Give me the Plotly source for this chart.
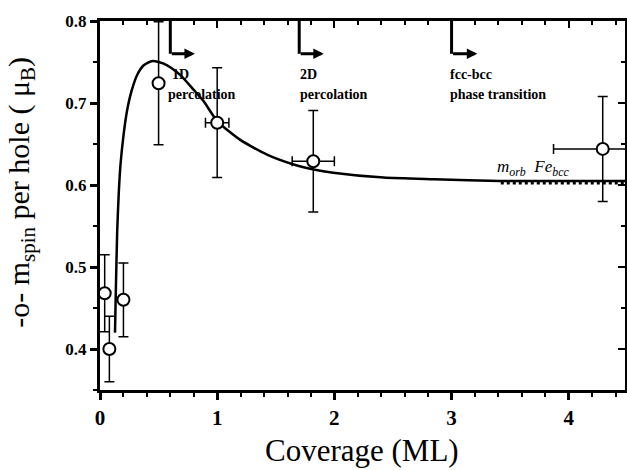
import plotly.graph_objects as go

# Measured points (coverage in ML, m_spin per hole in mu_B)
pt_x = [0.04, 0.08, 0.20, 0.50, 1.00, 1.82, 4.29]
pt_y = [0.468, 0.400, 0.460, 0.724, 0.676, 0.629, 0.644]
pt_yerr = [0.047, 0.040, 0.045, 0.075, 0.067, 0.062, 0.064]
pt_xerr = [0.0, 0.0, 0.0, 0.0, 0.10, 0.18, 0.42]

# Fitted guide curve
curve_x = [0.128, 0.135, 0.147, 0.16, 0.175, 0.20, 0.23, 0.27, 0.32, 0.373, 0.44,
           0.50, 0.573, 0.686, 0.80, 0.885, 1.00, 1.197, 1.425, 1.652, 1.823,
           1.99, 2.42, 2.85, 3.41, 4.48]
curve_y = [0.42, 0.47, 0.545, 0.59, 0.625, 0.66, 0.69, 0.715, 0.735, 0.746, 0.751,
           0.750, 0.746, 0.734, 0.716, 0.702, 0.678, 0.655, 0.637, 0.625, 0.619,
           0.615, 0.609, 0.607, 0.605, 0.605]

# m_orb Fe_bcc reference (hatched segment)
ref_x = [3.42, 4.48]
ref_y = [0.6025, 0.6025]

# Transition markers
mark_x = [0.60, 1.70, 3.00]
mark_len = [0.21, 0.21, 0.22]
mark_top = 0.8
mark_y = 0.760
label_line1 = ["1D", "2D", "fcc-bcc"]
label_line2 = ["percolation", "percolation", "phase transition"]
label1_x = [0.60, 1.69, 2.97]
label2_x = [0.56, 1.69, 2.97]
label1_y = 0.735
label2_y = 0.710

x_ticks = [0, 1, 2, 3, 4]
y_ticks = [0.4, 0.5, 0.6, 0.7, 0.8]
x_range = [0, 4.48]
y_range = [0.35, 0.8]

SERIF = "Liberation Serif, Times New Roman, serif"

fig = go.Figure()

fig.add_trace(go.Scatter(
    x=curve_x, y=curve_y, mode="lines",
    line=dict(color="black", width=2.5, shape="spline", smoothing=0.6),
    hoverinfo="skip", showlegend=False))

fig.add_trace(go.Scatter(
    x=ref_x, y=ref_y, mode="lines",
    line=dict(color="black", width=3, dash="dot"),
    hoverinfo="skip", showlegend=False))

fig.add_trace(go.Scatter(
    x=pt_x, y=pt_y, mode="markers",
    marker=dict(symbol="circle", size=12, color="white",
                line=dict(color="black", width=2)),
    error_y=dict(type="data", array=pt_yerr, color="black", thickness=1.5, width=5),
    error_x=dict(type="data", array=pt_xerr, color="black", thickness=1.5, width=5),
    showlegend=False))

# dummy trace for mirrored axes
fig.add_trace(go.Scatter(x=[None], y=[None], xaxis="x2", yaxis="y2",
                         showlegend=False, hoverinfo="skip"))

annotations = []
shapes = []
for mx, ml in zip(mark_x, mark_len):
    shapes.append(dict(type="line", xref="x", yref="y", x0=mx, x1=mx,
                       y0=mark_top, y1=mark_y, line=dict(color="black", width=3)))
    annotations.append(dict(x=mx + ml, y=mark_y, ax=mx, ay=mark_y,
                            xref="x", yref="y", axref="x", ayref="y",
                            text="", showarrow=True, arrowhead=2, arrowsize=0.7,
                            arrowwidth=3, arrowcolor="black"))
for t, lx in zip(label_line1, label1_x):
    annotations.append(dict(x=lx, y=label1_y, xref="x", yref="y", text="<b>%s</b>" % t,
                            showarrow=False, xanchor="left", yanchor="middle",
                            font=dict(family=SERIF, size=14, color="black")))
for t, lx in zip(label_line2, label2_x):
    annotations.append(dict(x=lx, y=label2_y, xref="x", yref="y", text="<b>%s</b>" % t,
                            showarrow=False, xanchor="left", yanchor="middle",
                            font=dict(family=SERIF, size=14, color="black")))

annotations.append(dict(x=3.37, y=0.621, xref="x", yref="y",
                        text="<i>m<sub>orb</sub>  Fe<sub>bcc</sub></i>",
                        showarrow=False, xanchor="left", yanchor="middle",
                        font=dict(family=SERIF, size=17, color="black")))

annotations.append(dict(x=-0.152, y=0.535, xref="paper", yref="paper",
                        text="-o- m<sub>spin</sub> per hole ( μ<sub>B</sub>)",
                        textangle=-90, showarrow=False,
                        xanchor="center", yanchor="middle",
                        font=dict(family=SERIF, size=30, color="black")))
annotations.append(dict(x=0.499, y=-0.163, xref="paper", yref="paper",
                        text="Coverage (ML)", showarrow=False,
                        xanchor="center", yanchor="middle",
                        font=dict(family=SERIF, size=31, color="black")))

axis_common = dict(showgrid=False, zeroline=False, showline=True,
                   linecolor="black", tickcolor="black")

fig.update_layout(
    width=627, height=470,
    margin=dict(l=100, r=2, t=21, b=80),
    paper_bgcolor="white", plot_bgcolor="white",
    showlegend=False,
    xaxis=dict(range=x_range, tickvals=x_ticks, ticks="outside", ticklen=7,
               tickwidth=2.5, linewidth=3,
               minor=dict(ticks="outside", dtick=0.2, tick0=0, ticklen=4,
                          tickwidth=2, tickcolor="black"),
               tickfont=dict(family=SERIF, size=21, color="black", weight="bold"),
               **axis_common),
    yaxis=dict(range=y_range, tickvals=y_ticks, ticktext=["0.4", "0.5", "0.6", "0.7", "0.8"],
               ticks="outside", ticklen=7, tickwidth=2.5, linewidth=3,
               minor=dict(ticks="outside", dtick=0.05, tick0=0.4, ticklen=4,
                          tickwidth=2, tickcolor="black"),
               tickfont=dict(family=SERIF, size=17, color="black", weight="bold"),
               **axis_common),
    xaxis2=dict(range=x_range, overlaying="x", side="top", anchor="y2",
                tickvals=x_ticks, ticks="inside", ticklen=7, tickwidth=2,
                showticklabels=False, linewidth=3,
                minor=dict(ticks="inside", dtick=0.2, tick0=0, ticklen=4,
                           tickwidth=2, tickcolor="black"),
                **axis_common),
    yaxis2=dict(range=y_range, overlaying="y", side="right", anchor="x2",
                tickvals=y_ticks, ticks="inside", ticklen=7, tickwidth=2,
                showticklabels=False, linewidth=2,
                minor=dict(ticks="inside", dtick=0.05, tick0=0.4, ticklen=4,
                           tickwidth=2, tickcolor="black"),
                **axis_common),
    annotations=annotations,
    shapes=shapes,
)

fig.write_html("out.html", config={"displayModeBar": False},
               post_script="document.body.style.margin='0';document.body.style.padding='0';")
